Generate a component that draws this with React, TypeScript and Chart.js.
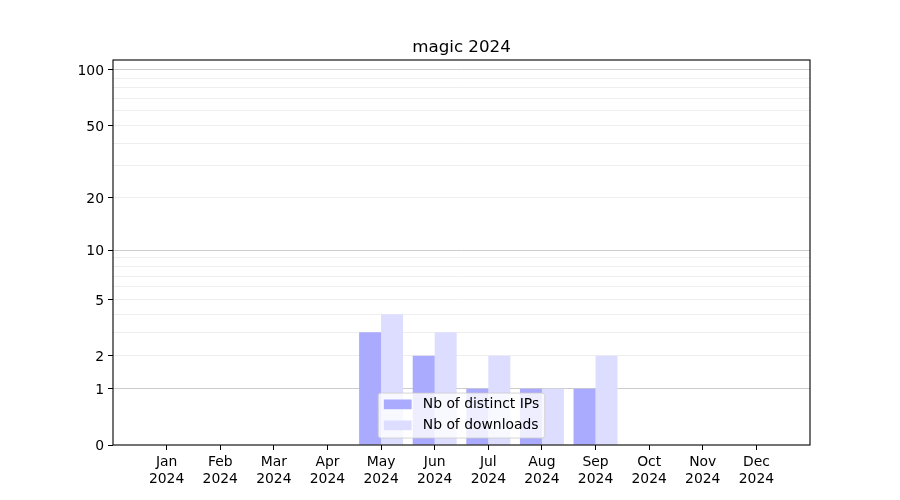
import React, { useEffect, useRef } from 'react';
import { Chart, registerables } from 'chart.js';

Chart.register(...registerables);

const months = ['Jan', 'Feb', 'Mar', 'Apr', 'May', 'Jun', 'Jul', 'Aug', 'Sep', 'Oct', 'Nov', 'Dec'];
const year = '2024';
const distinctIPs = [0, 0, 0, 0, 3, 2, 1, 1, 1, 0, 0, 0];
const downloads = [0, 0, 0, 0, 4, 3, 2, 1, 2, 0, 0, 0];
const seriesNames = ['Nb of distinct IPs', 'Nb of downloads'];
const seriesColors = ['#aaaaff', '#ddddff'];
const yTickLabels = [0, 1, 2, 5, 10, 20, 50, 100];
const majorGrid = [1, 10, 100];
const minorGrid = [2, 3, 4, 5, 6, 7, 8, 9, 20, 30, 40, 50, 60, 70, 80, 90];
const yTop = 113.2;
const titleText = 'magic 2024';

const FONT = 'DejaVu Sans';
const f = (v: number) => Math.log10(1 + v);
const inv = (t: number) => Math.round(Math.pow(10, t) - 1);

const overlayPlugin = {
  id: 'overlay',
  afterDraw(chart: any) {
    const { ctx, chartArea } = chart;
    const { left, right, top, bottom } = chartArea;
    ctx.save();
    // spines
    ctx.strokeStyle = '#000';
    ctx.lineWidth = 1.1;
    ctx.strokeRect(left, top, right - left, bottom - top);
    // title
    ctx.fillStyle = '#000';
    ctx.font = `16.7px "${FONT}"`;
    ctx.textAlign = 'center';
    ctx.textBaseline = 'alphabetic';
    ctx.fillText(titleText, (left + right) / 2, top - 8.5);
    // legend
    const fs = 13.9;
    ctx.font = `${fs}px "${FONT}"`;
    const textW = Math.max(...seriesNames.map((s) => ctx.measureText(s).width));
    const pad = 0.4 * fs;
    const handleLen = 2 * fs;
    const handleH = 0.7 * fs;
    const textPad = 0.8 * fs;
    const rowH = 21;
    const w = pad * 2 + handleLen + textPad + textW;
    const h = 45;
    const x0 = (left + right) / 2 - w / 2;
    const y0 = bottom - 0.5 * fs - h;
    ctx.beginPath();
    ctx.roundRect(x0, y0, w, h, 0.2 * fs);
    ctx.fillStyle = 'rgba(255,255,255,0.8)';
    ctx.fill();
    ctx.strokeStyle = 'rgba(204,204,204,0.8)';
    ctx.lineWidth = 1;
    ctx.stroke();
    ctx.textAlign = 'left';
    ctx.textBaseline = 'middle';
    seriesNames.forEach((name, i) => {
      const cy = y0 + 11.3 + i * rowH;
      ctx.fillStyle = seriesColors[i];
      ctx.fillRect(x0 + pad, cy - handleH / 2, handleLen, handleH);
      ctx.fillStyle = '#000';
      ctx.fillText(name, x0 + pad + handleLen + textPad, cy + 0.5);
    });
    ctx.restore();
  },
};

export default function App() {
  const ref = useRef<HTMLCanvasElement>(null);
  useEffect(() => {
    if (!ref.current) return;
    const allY = [...yTickLabels, ...majorGrid, ...minorGrid]
      .filter((v, i, a) => a.indexOf(v) === i)
      .sort((a, b) => a - b);
    const chart = new Chart(ref.current, {
      type: 'bar',
      data: {
        datasets: [
          {
            label: seriesNames[0],
            data: distinctIPs.map((v, i) => ({ x: i, y: f(v) })),
            backgroundColor: seriesColors[0],
            categoryPercentage: 0.82,
            barPercentage: 1,
          },
          {
            label: seriesNames[1],
            data: downloads.map((v, i) => ({ x: i, y: f(v) })),
            backgroundColor: seriesColors[1],
            categoryPercentage: 0.82,
            barPercentage: 1,
          },
        ],
      },
      options: {
        animation: false,
        responsive: false,
        layout: { padding: { top: 60, right: 90, left: 0, bottom: 0 } },
        plugins: {
          legend: { display: false },
          title: { display: false },
          tooltip: { enabled: false },
        },
        scales: {
          x: {
            type: 'linear',
            min: -1,
            max: 12,
            offset: false,
            afterBuildTicks: (scale: any) => {
              scale.ticks = months.map((_, i) => ({ value: i }));
            },
            afterFit: (scale: any) => {
              scale.height = 55;
            },
            ticks: {
              autoSkip: false,
              maxRotation: 0,
              padding: 4,
              color: '#000',
              font: { family: FONT, size: 13.9, lineHeight: 1.2 },
              callback: (value: any) => {
                const i = Math.round(value);
                return [months[i], year];
              },
            },
            grid: {
              offset: false,
              drawOnChartArea: false,
              tickLength: 5,
              tickColor: '#000',
              color: '#000',
            },
            border: { display: false },
          },
          y: {
            type: 'linear',
            min: 0,
            max: f(yTop),
            z: 1,
            afterBuildTicks: (scale: any) => {
              scale.ticks = allY.map((v) => ({ value: f(v) }));
            },
            afterFit: (scale: any) => {
              scale.width = 113;
            },
            ticks: {
              autoSkip: false,
              padding: 4,
              labelOffset: 1.5,
              color: '#000',
              font: { family: FONT, size: 13.9 },
              callback: (value: any) => {
                const v = inv(value);
                return yTickLabels.includes(v) ? String(v) : '';
              },
            },
            grid: {
              offset: false,
              tickLength: 5,
              lineWidth: 1,
              color: (ctx: any) => {
                const v = inv(ctx.tick.value);
                if (v === 0) return 'rgba(0,0,0,0)';
                if (majorGrid.includes(v)) return '#cccccc';
                return '#eeeeee';
              },
              tickColor: (ctx: any) => {
                const v = inv(ctx.tick.value);
                return yTickLabels.includes(v) ? '#000' : 'rgba(0,0,0,0)';
              },
            },
            border: { display: false },
          },
        },
      },
      plugins: [overlayPlugin],
    } as any);
    return () => chart.destroy();
  }, []);
  return (
    <div style={{ position: 'fixed', left: 0, top: 0, width: 900, height: 500, background: '#fff' }}>
      <canvas ref={ref} width={900} height={500} style={{ display: 'block', width: 900, height: 500 }} />
    </div>
  );
}
